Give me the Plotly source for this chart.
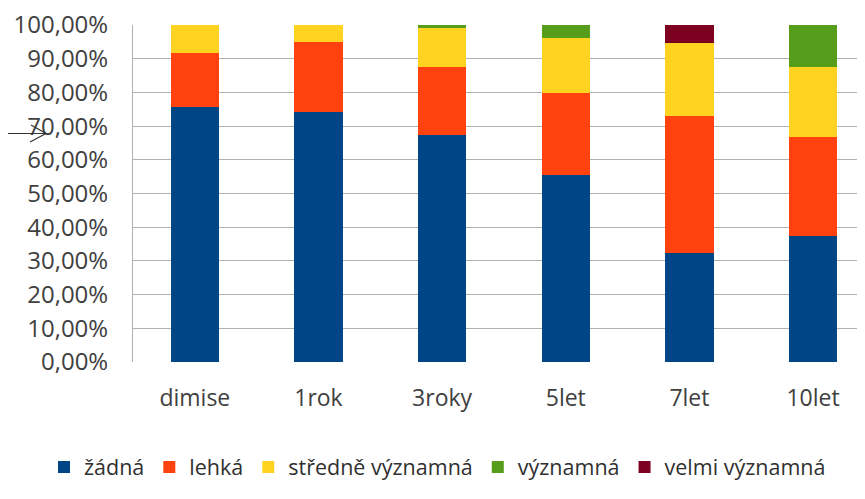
import plotly.graph_objects as go

categories = ["dimise", "1rok", "3roky", "5let", "7let", "10let"]
zadna = [75.7, 74.2, 67.5, 55.5, 32.2, 37.4]
lehka = [16.0, 20.9, 20.1, 24.2, 40.8, 29.4]
stredne = [8.3, 4.9, 11.5, 16.5, 21.7, 20.8]
vyznamna = [0, 0, 0.9, 3.8, 0, 12.4]
velmi = [0, 0, 0, 0, 5.3, 0]
y_ticks = [0, 0.1, 0.2, 0.3, 0.4, 0.5, 0.6, 0.7, 0.8, 0.9, 1.0]

series = [
    ("žádná", zadna, "#004586"),
    ("lehká", lehka, "#ff420e"),
    ("středně významná", stredne, "#ffd320"),
    ("významná", vyznamna, "#579d1c"),
    ("velmi významná", velmi, "#7e0021"),
]

fig = go.Figure()
for name, vals, col in series:
    fig.add_trace(go.Bar(
        x=categories, y=[v / 100 for v in vals], name=name,
        marker=dict(color=col, line=dict(width=0)),
    ))

# the page body has an 8px margin, so the figure is offset by 8px
OFF = 8
W, H = 865 - OFF, 499 - OFF
L, R, T, B = 133 - OFF, 0, 25 - OFF, 499 - 362
pw, ph = W - L - R, H - T - B

def px_to_paper(x, y):
    # page pixel -> paper coordinates
    return (x - OFF - L) / pw, (H - B - (y - OFF)) / ph

leg_x, leg_y = px_to_paper(44, 467)

fig.update_layout(
    width=W, height=H,
    template="none",
    barmode="stack", bargap=0.61,
    separators=",.",
    margin=dict(l=L, r=R, t=T, b=B, pad=0, autoexpand=False),
    plot_bgcolor="white", paper_bgcolor="white",
    font=dict(family="Open Sans", size=23, color="#404040"),
    showlegend=True,
    legend=dict(orientation="h", x=leg_x, xanchor="left", y=leg_y,
                yanchor="middle", traceorder="normal", bgcolor="rgba(0,0,0,0)",
                font=dict(size=21.5, color="#303030"), itemwidth=30),
    xaxis=dict(range=[-0.5, 5.42], showgrid=False, showline=False, zeroline=False,
               ticks="", ticklabelstandoff=20, fixedrange=True, automargin=False),
    yaxis=dict(range=[0, 1], tickvals=y_ticks, tickformat=".2%", showgrid=True,
               gridcolor="#b0b0b0", gridwidth=1, showline=True, linecolor="#b0b0b0",
               linewidth=1, zeroline=False, ticks="", ticklabelstandoff=19,
               automargin=False, ticklabeloverflow="allow", tickfont=dict(size=24)),
)

# stray arrow on the left of the picture
x0, y0 = px_to_paper(0, 133.5)
x1, y1 = px_to_paper(46, 133.5)
xa, ya = px_to_paper(31, 125)
xb, yb = px_to_paper(30, 142)
line = dict(color="#333333", width=1.2)
fig.add_shape(type="line", xref="paper", yref="paper", x0=x0, y0=y0, x1=x1, y1=y1, line=line)
fig.add_shape(type="line", xref="paper", yref="paper", x0=xa, y0=ya, x1=x1, y1=y1, line=line)
fig.add_shape(type="line", xref="paper", yref="paper", x0=xb, y0=yb, x1=x1, y1=y1, line=line)

fig.write_html("out.html")
